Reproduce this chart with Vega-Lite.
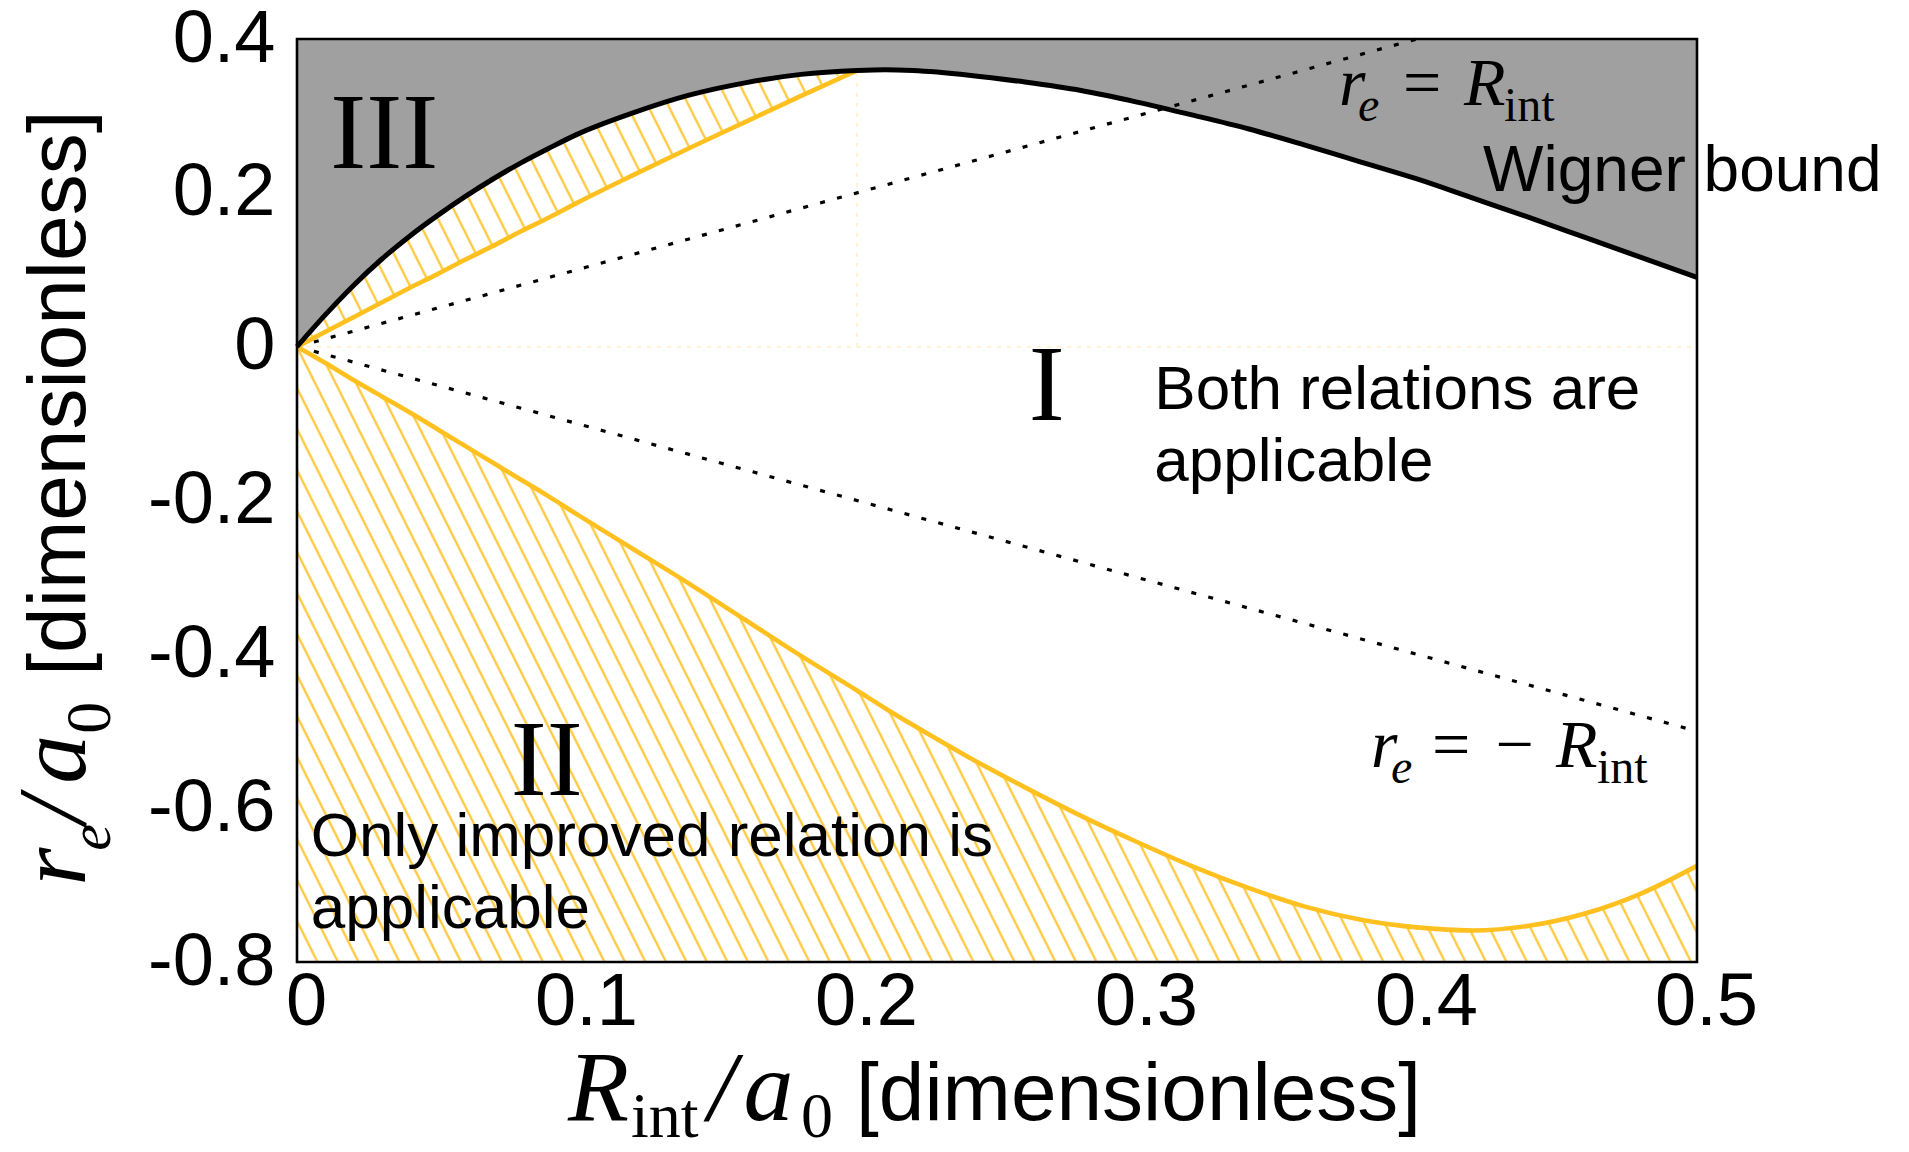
{
"$schema": "https://vega.github.io/schema/vega-lite/v6.json",
"width": 1400, "height": 923,
"autosize": "none",
"padding": {"left": 297, "top": 39, "right": 212, "bottom": 190},
"background": "white",
"config": {"view": {"stroke": null},
  "axis": {"domain": false, "ticks": false, "grid": false, "labelFont": "Liberation Sans", "labelFontSize": 74, "labelColor": "black", "labelOverlap": false, "labelBound": false, "labelFlush": false}},
"datasets": {
"c": [
{"R":0,"w":0,"up":0,"lo":0,"top":0},
{"R":0.01,"w":0.041,"up":0.019,"lo":-0.021,"top":0.019},
{"R":0.02,"w":0.079,"up":0.038,"lo":-0.043,"top":0.038},
{"R":0.03,"w":0.113,"up":0.057,"lo":-0.064,"top":0.057},
{"R":0.04,"w":0.143,"up":0.076,"lo":-0.085,"top":0.076},
{"R":0.05,"w":0.170,"up":0.094,"lo":-0.107,"top":0.094},
{"R":0.06,"w":0.195,"up":0.113,"lo":-0.129,"top":0.113},
{"R":0.07,"w":0.218,"up":0.131,"lo":-0.151,"top":0.131},
{"R":0.08,"w":0.239,"up":0.150,"lo":-0.173,"top":0.150},
{"R":0.09,"w":0.258,"up":0.168,"lo":-0.195,"top":0.168},
{"R":0.10,"w":0.276,"up":0.187,"lo":-0.218,"top":0.187},
{"R":0.12,"w":0.304,"up":0.223,"lo":-0.263,"top":0.223},
{"R":0.14,"w":0.327,"up":0.258,"lo":-0.308,"top":0.258},
{"R":0.16,"w":0.343,"up":0.292,"lo":-0.355,"top":0.292},
{"R":0.18,"w":0.354,"up":0.326,"lo":-0.402,"top":0.326},
{"R":0.20,"w":0.359,"up":0.359,"lo":-0.447,"top":0.359},
{"R":0.21,"w":0.360,"lo":-0.470,"top":0.360},
{"R":0.22,"w":0.359,"lo":-0.492,"top":0.359},
{"R":0.24,"w":0.353,"lo":-0.534,"top":0.353},
{"R":0.26,"w":0.344,"lo":-0.573,"top":0.344},
{"R":0.28,"w":0.333,"lo":-0.610,"top":0.333},
{"R":0.30,"w":0.318,"lo":-0.644,"top":0.318},
{"R":0.32,"w":0.301,"lo":-0.676,"top":0.301},
{"R":0.34,"w":0.283,"lo":-0.704,"top":0.283},
{"R":0.36,"w":0.262,"lo":-0.728,"top":0.262},
{"R":0.38,"w":0.240,"lo":-0.745,"top":0.240},
{"R":0.40,"w":0.218,"lo":-0.755,"top":0.218},
{"R":0.42,"w":0.193,"lo":-0.759,"top":0.193},
{"R":0.44,"w":0.168,"lo":-0.753,"top":0.168},
{"R":0.46,"w":0.142,"lo":-0.737,"top":0.142},
{"R":0.48,"w":0.116,"lo":-0.711,"top":0.116},
{"R":0.50,"w":0.090,"lo":-0.675,"top":0.090}
],
"d": [{"x":0,"y":0,"x2":0.4,"y2":0.4},{"x":0,"y":0,"x2":0.5,"y2":-0.5}],
"f": [{"x":0.2,"y":0,"x2":0.2,"y2":0.359},{"x":0,"y":0,"x2":0.5,"y2":0}],
"t": [
{"k":"big","x":0.03114,"y":0.2324,"s":"III"},
{"k":"big","x":0.2678,"y":-0.0947,"s":"I"},
{"k":"big","x":0.0892,"y":-0.5832,"s":"II"},
{"k":"lab","x":0.3062,"y":-0.0806,"s":"Both relations are\napplicable"},
{"k":"lab","x":0.0049,"y":-0.6628,"s":"Only improved relation is\napplicable"},
{"k":"wig","x":0.4236,"y":0.2020,"s":"Wigner bound"},
{"k":"mit","x":0.37214,"y":0.3147,"s":"r"},
{"k":"msi","x":0.37893,"y":0.2930,"s":"e"},
{"k":"mrm","x":0.3950,"y":0.3147,"s":"="},
{"k":"mit","x":0.41679,"y":0.3147,"s":"R"},
{"k":"msr","x":0.43107,"y":0.2930,"s":"int"},
{"k":"mit","x":0.38357,"y":-0.5468,"s":"r"},
{"k":"msi","x":0.39071,"y":-0.5670,"s":"e"},
{"k":"mrm","x":0.40536,"y":-0.5468,"s":"="},
{"k":"mrm","x":0.4280,"y":-0.5468,"s":"−"},
{"k":"mit","x":0.44964,"y":-0.5468,"s":"R"},
{"k":"msr","x":0.46429,"y":-0.5670,"s":"int"},
{"k":"xit","x":0.09679,"y":-1.0052,"s":"R"},
{"k":"xsr","x":0.11929,"y":-1.0273,"s":"int"},
{"k":"xit","x":0.14679,"y":-1.0052,"s":"/"},
{"k":"xit","x":0.1595,"y":-1.0052,"s":"a"},
{"k":"xsr","x":0.1800,"y":-1.0273,"s":"0"},
{"k":"xsans","x":0.19964,"y":-1.0052,"s":"[dimensionless]"},
{"k":"yit","x":-0.07571,"y":-0.7009,"s":"r"},
{"k":"ysi","x":-0.06679,"y":-0.6554,"s":"e"},
{"k":"yit","x":-0.07571,"y":-0.6203,"s":"/"},
{"k":"yit","x":-0.07571,"y":-0.5683,"s":"a"},
{"k":"ysr","x":-0.06679,"y":-0.5033,"s":"0"},
{"k":"ysans","x":-0.07571,"y":-0.4278,"s":"[dimensionless]"}
]
},
"layer": [
{"data": {"values": [{}]},
 "mark": {"type": "rect", "strokeWidth": 0, "opacity": 1,
  "fill": {"gradient": "linear", "x1": 0, "y1": 1, "x2": 1.3208, "y2": 0.5646, "stops": [
{"offset":0,"color":"#ffc020"},{"offset":0.0011,"color":"#fff"},
{"offset":0.0089,"color":"#fff"},{"offset":0.01,"color":"#ffc020"},{"offset":0.0111,"color":"#fff"},
{"offset":0.0189,"color":"#fff"},{"offset":0.02,"color":"#ffc020"},{"offset":0.0211,"color":"#fff"},
{"offset":0.0289,"color":"#fff"},{"offset":0.03,"color":"#ffc020"},{"offset":0.0311,"color":"#fff"},
{"offset":0.0389,"color":"#fff"},{"offset":0.04,"color":"#ffc020"},{"offset":0.0411,"color":"#fff"},
{"offset":0.0489,"color":"#fff"},{"offset":0.05,"color":"#ffc020"},{"offset":0.0511,"color":"#fff"},
{"offset":0.0589,"color":"#fff"},{"offset":0.06,"color":"#ffc020"},{"offset":0.0611,"color":"#fff"},
{"offset":0.0689,"color":"#fff"},{"offset":0.07,"color":"#ffc020"},{"offset":0.0711,"color":"#fff"},
{"offset":0.0789,"color":"#fff"},{"offset":0.08,"color":"#ffc020"},{"offset":0.0811,"color":"#fff"},
{"offset":0.0889,"color":"#fff"},{"offset":0.09,"color":"#ffc020"},{"offset":0.0911,"color":"#fff"},
{"offset":0.0989,"color":"#fff"},{"offset":0.1,"color":"#ffc020"},{"offset":0.1011,"color":"#fff"},
{"offset":0.1089,"color":"#fff"},{"offset":0.11,"color":"#ffc020"},{"offset":0.1111,"color":"#fff"},
{"offset":0.1189,"color":"#fff"},{"offset":0.12,"color":"#ffc020"},{"offset":0.1211,"color":"#fff"},
{"offset":0.1289,"color":"#fff"},{"offset":0.13,"color":"#ffc020"},{"offset":0.1311,"color":"#fff"},
{"offset":0.1389,"color":"#fff"},{"offset":0.14,"color":"#ffc020"},{"offset":0.1411,"color":"#fff"},
{"offset":0.1489,"color":"#fff"},{"offset":0.15,"color":"#ffc020"},{"offset":0.1511,"color":"#fff"},
{"offset":0.1589,"color":"#fff"},{"offset":0.16,"color":"#ffc020"},{"offset":0.1611,"color":"#fff"},
{"offset":0.1689,"color":"#fff"},{"offset":0.17,"color":"#ffc020"},{"offset":0.1711,"color":"#fff"},
{"offset":0.1789,"color":"#fff"},{"offset":0.18,"color":"#ffc020"},{"offset":0.1811,"color":"#fff"},
{"offset":0.1889,"color":"#fff"},{"offset":0.19,"color":"#ffc020"},{"offset":0.1911,"color":"#fff"},
{"offset":0.1989,"color":"#fff"},{"offset":0.2,"color":"#ffc020"},{"offset":0.2011,"color":"#fff"},
{"offset":0.2089,"color":"#fff"},{"offset":0.21,"color":"#ffc020"},{"offset":0.2111,"color":"#fff"},
{"offset":0.2189,"color":"#fff"},{"offset":0.22,"color":"#ffc020"},{"offset":0.2211,"color":"#fff"},
{"offset":0.2289,"color":"#fff"},{"offset":0.23,"color":"#ffc020"},{"offset":0.2311,"color":"#fff"},
{"offset":0.2389,"color":"#fff"},{"offset":0.24,"color":"#ffc020"},{"offset":0.2411,"color":"#fff"},
{"offset":0.2489,"color":"#fff"},{"offset":0.25,"color":"#ffc020"},{"offset":0.2511,"color":"#fff"},
{"offset":0.2589,"color":"#fff"},{"offset":0.26,"color":"#ffc020"},{"offset":0.2611,"color":"#fff"},
{"offset":0.2689,"color":"#fff"},{"offset":0.27,"color":"#ffc020"},{"offset":0.2711,"color":"#fff"},
{"offset":0.2789,"color":"#fff"},{"offset":0.28,"color":"#ffc020"},{"offset":0.2811,"color":"#fff"},
{"offset":0.2889,"color":"#fff"},{"offset":0.29,"color":"#ffc020"},{"offset":0.2911,"color":"#fff"},
{"offset":0.2989,"color":"#fff"},{"offset":0.3,"color":"#ffc020"},{"offset":0.3011,"color":"#fff"},
{"offset":0.3089,"color":"#fff"},{"offset":0.31,"color":"#ffc020"},{"offset":0.3111,"color":"#fff"},
{"offset":0.3189,"color":"#fff"},{"offset":0.32,"color":"#ffc020"},{"offset":0.3211,"color":"#fff"},
{"offset":0.3289,"color":"#fff"},{"offset":0.33,"color":"#ffc020"},{"offset":0.3311,"color":"#fff"},
{"offset":0.3389,"color":"#fff"},{"offset":0.34,"color":"#ffc020"},{"offset":0.3411,"color":"#fff"},
{"offset":0.3489,"color":"#fff"},{"offset":0.35,"color":"#ffc020"},{"offset":0.3511,"color":"#fff"},
{"offset":0.3589,"color":"#fff"},{"offset":0.36,"color":"#ffc020"},{"offset":0.3611,"color":"#fff"},
{"offset":0.3689,"color":"#fff"},{"offset":0.37,"color":"#ffc020"},{"offset":0.3711,"color":"#fff"},
{"offset":0.3789,"color":"#fff"},{"offset":0.38,"color":"#ffc020"},{"offset":0.3811,"color":"#fff"},
{"offset":0.3889,"color":"#fff"},{"offset":0.39,"color":"#ffc020"},{"offset":0.3911,"color":"#fff"},
{"offset":0.3989,"color":"#fff"},{"offset":0.4,"color":"#ffc020"},{"offset":0.4011,"color":"#fff"},
{"offset":0.4089,"color":"#fff"},{"offset":0.41,"color":"#ffc020"},{"offset":0.4111,"color":"#fff"},
{"offset":0.4189,"color":"#fff"},{"offset":0.42,"color":"#ffc020"},{"offset":0.4211,"color":"#fff"},
{"offset":0.4289,"color":"#fff"},{"offset":0.43,"color":"#ffc020"},{"offset":0.4311,"color":"#fff"},
{"offset":0.4389,"color":"#fff"},{"offset":0.44,"color":"#ffc020"},{"offset":0.4411,"color":"#fff"},
{"offset":0.4489,"color":"#fff"},{"offset":0.45,"color":"#ffc020"},{"offset":0.4511,"color":"#fff"},
{"offset":0.4589,"color":"#fff"},{"offset":0.46,"color":"#ffc020"},{"offset":0.4611,"color":"#fff"},
{"offset":0.4689,"color":"#fff"},{"offset":0.47,"color":"#ffc020"},{"offset":0.4711,"color":"#fff"},
{"offset":0.4789,"color":"#fff"},{"offset":0.48,"color":"#ffc020"},{"offset":0.4811,"color":"#fff"},
{"offset":0.4889,"color":"#fff"},{"offset":0.49,"color":"#ffc020"},{"offset":0.4911,"color":"#fff"},
{"offset":0.4989,"color":"#fff"},{"offset":0.5,"color":"#ffc020"},{"offset":0.5011,"color":"#fff"},
{"offset":0.5089,"color":"#fff"},{"offset":0.51,"color":"#ffc020"},{"offset":0.5111,"color":"#fff"},
{"offset":0.5189,"color":"#fff"},{"offset":0.52,"color":"#ffc020"},{"offset":0.5211,"color":"#fff"},
{"offset":0.5289,"color":"#fff"},{"offset":0.53,"color":"#ffc020"},{"offset":0.5311,"color":"#fff"},
{"offset":0.5389,"color":"#fff"},{"offset":0.54,"color":"#ffc020"},{"offset":0.5411,"color":"#fff"},
{"offset":0.5489,"color":"#fff"},{"offset":0.55,"color":"#ffc020"},{"offset":0.5511,"color":"#fff"},
{"offset":0.5589,"color":"#fff"},{"offset":0.56,"color":"#ffc020"},{"offset":0.5611,"color":"#fff"},
{"offset":0.5689,"color":"#fff"},{"offset":0.57,"color":"#ffc020"},{"offset":0.5711,"color":"#fff"},
{"offset":0.5789,"color":"#fff"},{"offset":0.58,"color":"#ffc020"},{"offset":0.5811,"color":"#fff"},
{"offset":0.5889,"color":"#fff"},{"offset":0.59,"color":"#ffc020"},{"offset":0.5911,"color":"#fff"},
{"offset":0.5989,"color":"#fff"},{"offset":0.6,"color":"#ffc020"},{"offset":0.6011,"color":"#fff"},
{"offset":0.6089,"color":"#fff"},{"offset":0.61,"color":"#ffc020"},{"offset":0.6111,"color":"#fff"},
{"offset":0.6189,"color":"#fff"},{"offset":0.62,"color":"#ffc020"},{"offset":0.6211,"color":"#fff"},
{"offset":0.6289,"color":"#fff"},{"offset":0.63,"color":"#ffc020"},{"offset":0.6311,"color":"#fff"},
{"offset":0.6389,"color":"#fff"},{"offset":0.64,"color":"#ffc020"},{"offset":0.6411,"color":"#fff"},
{"offset":0.6489,"color":"#fff"},{"offset":0.65,"color":"#ffc020"},{"offset":0.6511,"color":"#fff"},
{"offset":0.6589,"color":"#fff"},{"offset":0.66,"color":"#ffc020"},{"offset":0.6611,"color":"#fff"},
{"offset":0.6689,"color":"#fff"},{"offset":0.67,"color":"#ffc020"},{"offset":0.6711,"color":"#fff"},
{"offset":0.6789,"color":"#fff"},{"offset":0.68,"color":"#ffc020"},{"offset":0.6811,"color":"#fff"},
{"offset":0.6889,"color":"#fff"},{"offset":0.69,"color":"#ffc020"},{"offset":0.6911,"color":"#fff"},
{"offset":0.6989,"color":"#fff"},{"offset":0.7,"color":"#ffc020"},{"offset":0.7011,"color":"#fff"},
{"offset":0.7089,"color":"#fff"},{"offset":0.71,"color":"#ffc020"},{"offset":0.7111,"color":"#fff"},
{"offset":0.7189,"color":"#fff"},{"offset":0.72,"color":"#ffc020"},{"offset":0.7211,"color":"#fff"},
{"offset":0.7289,"color":"#fff"},{"offset":0.73,"color":"#ffc020"},{"offset":0.7311,"color":"#fff"}
  ]}},
 "encoding": {
  "x": {"datum": 0, "type": "quantitative", "scale": {"domain": [0, 0.5], "nice": false, "zero": false}, "axis": {"title": null}},
  "x2": {"datum": 0.5},
  "y": {"datum": 0.4, "type": "quantitative", "scale": {"domain": [-0.8, 0.4], "nice": false, "zero": false}, "axis": {"title": null}},
  "y2": {"datum": -0.8}
 }},
{"data": {"name": "c"},
 "mark": {"type": "area", "color": "white", "opacity": 1, "interpolate": "monotone"},
 "encoding": {"x": {"field": "R", "type": "quantitative", "axis": {"title": null}}, "y": {"field": "top", "type": "quantitative", "axis": {"title": null}}, "y2": {"field": "lo"}}},
{"data": {"name": "c"},
 "mark": {"type": "area", "color": "#a0a0a0", "opacity": 1, "interpolate": "monotone"},
 "encoding": {"x": {"field": "R", "type": "quantitative", "axis": {"title": null}}, "y": {"field": "w", "type": "quantitative", "axis": {"title": null}}, "y2": {"datum": 0.4}}},
{"data": {"name": "f"},
 "mark": {"type": "rule", "color": "#fff0c4", "strokeWidth": 1.5, "strokeDash": [4, 6]},
 "encoding": {"x": {"field": "x", "type": "quantitative", "axis": {"title": null}}, "y": {"field": "y", "type": "quantitative", "axis": {"title": null}}, "x2": {"field": "x2"}, "y2": {"field": "y2"}}},
{"data": {"name": "d"},
 "mark": {"type": "rule", "color": "black", "strokeWidth": 3.2, "strokeDash": [5, 12.5]},
 "encoding": {"x": {"field": "x", "type": "quantitative", "axis": {"title": null}}, "y": {"field": "y", "type": "quantitative", "axis": {"title": null}}, "x2": {"field": "x2"}, "y2": {"field": "y2"}}},
{"data": {"name": "c"},
 "transform": [{"filter": "isValid(datum.up)"}],
 "mark": {"type": "line", "color": "#ffc020", "strokeWidth": 4.6, "interpolate": "monotone"},
 "encoding": {"x": {"field": "R", "type": "quantitative", "axis": {"title": null}}, "y": {"field": "up", "type": "quantitative", "axis": {"title": null}}}},
{"data": {"name": "c"},
 "mark": {"type": "line", "color": "#ffc020", "strokeWidth": 4.6, "interpolate": "monotone"},
 "encoding": {"x": {"field": "R", "type": "quantitative", "axis": {"title": null}}, "y": {"field": "lo", "type": "quantitative", "axis": {"title": null}}}},
{"data": {"name": "c"},
 "mark": {"type": "line", "color": "black", "strokeWidth": 5, "interpolate": "monotone"},
 "encoding": {
  "x": {"field": "R", "type": "quantitative", "scale": {"domain": [0, 0.5], "nice": false, "zero": false},
        "axis": {"values": [0, 0.1, 0.2, 0.3, 0.4, 0.5], "labelExpr": "datum.value == 0 ? '0' : format(datum.value, '.1f')", "labelPadding": 4, "labelOffset": 9, "title": null}},
  "y": {"field": "w", "type": "quantitative", "scale": {"domain": [-0.8, 0.4], "nice": false, "zero": false},
        "axis": {"values": [-0.8, -0.6, -0.4, -0.2, 0, 0.2, 0.4], "labelExpr": "datum.value == 0 ? '0' : (datum.value < 0 ? '-' : '') + format(abs(datum.value), '.1f')", "labelPadding": 22, "title": null}}}},
{"data": {"values": [{}]},
 "mark": {"type": "rect", "fillOpacity": 0, "stroke": "black", "strokeWidth": 2.6},
 "encoding": {"x": {"datum": 0, "type": "quantitative", "axis": {"title": null}}, "x2": {"datum": 0.5}, "y": {"datum": 0.4, "type": "quantitative", "axis": {"title": null}}, "y2": {"datum": -0.8}}},
{"data": {"name": "t"}, "transform": [{"filter": "datum.k == 'big'"}],
 "mark": {"type": "text", "font": "Liberation Serif", "fontSize": 108, "align": "center", "baseline": "alphabetic", "color": "black"},
 "encoding": {"x": {"field": "x", "type": "quantitative", "axis": {"title": null}}, "y": {"field": "y", "type": "quantitative", "axis": {"title": null}}, "text": {"field": "s"}}},
{"data": {"name": "t"}, "transform": [{"filter": "datum.k == 'lab'"}],
 "mark": {"type": "text", "font": "Liberation Sans", "fontSize": 62, "align": "left", "baseline": "alphabetic", "lineBreak": "\n", "lineHeight": 72, "color": "black"},
 "encoding": {"x": {"field": "x", "type": "quantitative", "axis": {"title": null}}, "y": {"field": "y", "type": "quantitative", "axis": {"title": null}}, "text": {"field": "s"}}},
{"data": {"name": "t"}, "transform": [{"filter": "datum.k == 'wig'"}],
 "mark": {"type": "text", "font": "Liberation Sans", "fontSize": 64, "align": "left", "baseline": "alphabetic", "color": "black"},
 "encoding": {"x": {"field": "x", "type": "quantitative", "axis": {"title": null}}, "y": {"field": "y", "type": "quantitative", "axis": {"title": null}}, "text": {"field": "s"}}},
{"data": {"name": "t"}, "transform": [{"filter": "datum.k == 'mit'"}],
 "mark": {"type": "text", "font": "Liberation Serif", "fontStyle": "italic", "fontSize": 68, "align": "left", "baseline": "alphabetic", "color": "black"},
 "encoding": {"x": {"field": "x", "type": "quantitative", "axis": {"title": null}}, "y": {"field": "y", "type": "quantitative", "axis": {"title": null}}, "text": {"field": "s"}}},
{"data": {"name": "t"}, "transform": [{"filter": "datum.k == 'mrm'"}],
 "mark": {"type": "text", "font": "Liberation Serif", "fontSize": 68, "align": "left", "baseline": "alphabetic", "color": "black"},
 "encoding": {"x": {"field": "x", "type": "quantitative", "axis": {"title": null}}, "y": {"field": "y", "type": "quantitative", "axis": {"title": null}}, "text": {"field": "s"}}},
{"data": {"name": "t"}, "transform": [{"filter": "datum.k == 'msi'"}],
 "mark": {"type": "text", "font": "Liberation Serif", "fontStyle": "italic", "fontSize": 48, "align": "left", "baseline": "alphabetic", "color": "black"},
 "encoding": {"x": {"field": "x", "type": "quantitative", "axis": {"title": null}}, "y": {"field": "y", "type": "quantitative", "axis": {"title": null}}, "text": {"field": "s"}}},
{"data": {"name": "t"}, "transform": [{"filter": "datum.k == 'msr'"}],
 "mark": {"type": "text", "font": "Liberation Serif", "fontSize": 48, "align": "left", "baseline": "alphabetic", "color": "black"},
 "encoding": {"x": {"field": "x", "type": "quantitative", "axis": {"title": null}}, "y": {"field": "y", "type": "quantitative", "axis": {"title": null}}, "text": {"field": "s"}}},
{"data": {"name": "t"}, "transform": [{"filter": "datum.k == 'xit'"}],
 "mark": {"type": "text", "font": "Liberation Serif", "fontStyle": "italic", "fontSize": 100, "align": "left", "baseline": "alphabetic", "color": "black"},
 "encoding": {"x": {"field": "x", "type": "quantitative", "axis": {"title": null}}, "y": {"field": "y", "type": "quantitative", "axis": {"title": null}}, "text": {"field": "s"}}},
{"data": {"name": "t"}, "transform": [{"filter": "datum.k == 'xsr'"}],
 "mark": {"type": "text", "font": "Liberation Serif", "fontSize": 64, "align": "left", "baseline": "alphabetic", "color": "black"},
 "encoding": {"x": {"field": "x", "type": "quantitative", "axis": {"title": null}}, "y": {"field": "y", "type": "quantitative", "axis": {"title": null}}, "text": {"field": "s"}}},
{"data": {"name": "t"}, "transform": [{"filter": "datum.k == 'xsans'"}],
 "mark": {"type": "text", "font": "Liberation Sans", "fontSize": 82, "align": "left", "baseline": "alphabetic", "color": "black"},
 "encoding": {"x": {"field": "x", "type": "quantitative", "axis": {"title": null}}, "y": {"field": "y", "type": "quantitative", "axis": {"title": null}}, "text": {"field": "s"}}},
{"data": {"name": "t"}, "transform": [{"filter": "datum.k == 'yit'"}],
 "mark": {"type": "text", "font": "Liberation Serif", "fontStyle": "italic", "fontSize": 98, "align": "left", "baseline": "alphabetic", "angle": 270, "color": "black"},
 "encoding": {"x": {"field": "x", "type": "quantitative", "axis": {"title": null}}, "y": {"field": "y", "type": "quantitative", "axis": {"title": null}}, "text": {"field": "s"}}},
{"data": {"name": "t"}, "transform": [{"filter": "datum.k == 'ysi'"}],
 "mark": {"type": "text", "font": "Liberation Serif", "fontStyle": "italic", "fontSize": 60, "align": "left", "baseline": "alphabetic", "angle": 270, "color": "black"},
 "encoding": {"x": {"field": "x", "type": "quantitative", "axis": {"title": null}}, "y": {"field": "y", "type": "quantitative", "axis": {"title": null}}, "text": {"field": "s"}}},
{"data": {"name": "t"}, "transform": [{"filter": "datum.k == 'ysr'"}],
 "mark": {"type": "text", "font": "Liberation Serif", "fontSize": 64, "align": "left", "baseline": "alphabetic", "angle": 270, "color": "black"},
 "encoding": {"x": {"field": "x", "type": "quantitative", "axis": {"title": null}}, "y": {"field": "y", "type": "quantitative", "axis": {"title": null}}, "text": {"field": "s"}}},
{"data": {"name": "t"}, "transform": [{"filter": "datum.k == 'ysans'"}],
 "mark": {"type": "text", "font": "Liberation Sans", "fontSize": 82, "align": "left", "baseline": "alphabetic", "angle": 270, "color": "black"},
 "encoding": {"x": {"field": "x", "type": "quantitative", "axis": {"title": null}}, "y": {"field": "y", "type": "quantitative", "axis": {"title": null}}, "text": {"field": "s"}}}
]
}
